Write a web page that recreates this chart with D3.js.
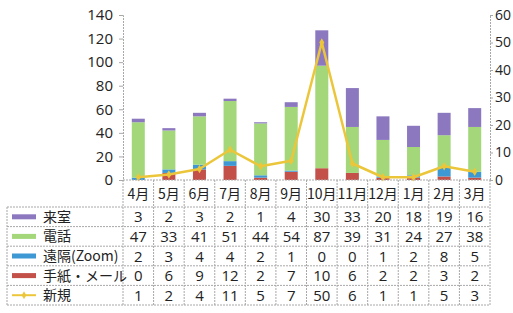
<!DOCTYPE html>
<html>
<head>
<meta charset="utf-8">
<script src="https://cdn.jsdelivr.net/npm/d3@7"></script>
<style>
body { margin:0; background:#fff; }
svg { font-family: "Noto Sans CJK JP", "Noto Sans", sans-serif; }
</style>
</head>
<body>
<svg id="chart" width="513" height="313"></svg>
<script>
// months and series
const months = ["4月","5月","6月","7月","8月","9月","10月","11月","12月","1月","2月","3月"];
const raishitsu = [3,2,3,2,1,4,30,33,20,18,19,16];
const denwa = [47,33,41,51,44,54,87,39,31,24,27,38];
const enkaku = [2,3,4,4,2,1,0,0,1,2,8,5];
const tegami = [0,6,9,12,2,7,10,6,2,2,3,2];
const shinki = [1,2,4,11,5,7,50,6,1,1,5,3];
const leftTicks = [0,20,40,60,80,100,120,140];
const rightTicks = [0,10,20,30,40,50,60];

// bottom to top in the stack
const stackSeries = [
    {name:"手紙・メール", values:tegami, color:"#c4504a"},
    {name:"遠隔(Zoom)", values:enkaku, color:"#3d98d3"},
    {name:"電話", values:denwa, color:"#a3d77a"},
    {name:"来室", values:raishitsu, color:"#8c78bf"}
];
const lineColor = "#ecc63a";

// table rows, top to bottom
const tableRows = [
    {name:"来室", values:raishitsu, color:"#8c78bf", type:"bar"},
    {name:"電話", values:denwa, color:"#a3d77a", type:"bar"},
    {name:"遠隔(Zoom)", values:enkaku, color:"#3d98d3", type:"bar"},
    {name:"手紙・メール", values:tegami, color:"#c4504a", type:"bar"},
    {name:"新規", values:shinki, color:lineColor, type:"line"}
];

const svg = d3.select('#chart');
const plot = {left:123, right:490, top:15, bottom:180};
const gridColor = "#a8a8a8";

const xScale = d3.scaleBand()
    .domain(months)
    .range([plot.left, plot.right]);

const yLeft = d3.scaleLinear().domain([0,140]).range([plot.bottom, plot.top]);
const yRight = d3.scaleLinear().domain([0,60]).range([plot.bottom, plot.top]);

// axes
const leftAxis = svg.append('g')
    .attr('transform', `translate(${plot.left},0)`)
    .call(d3.axisLeft(yLeft).tickValues(leftTicks).tickSize(4).tickPadding(6));
const rightAxis = svg.append('g')
    .attr('transform', `translate(${plot.right},0)`)
    .call(d3.axisRight(yRight).tickValues(rightTicks).tickSize(3).tickPadding(2));
for (const ax of [leftAxis, rightAxis]) {
    ax.select('.domain').attr('stroke', gridColor).attr('stroke-dasharray', '2,1');
    ax.selectAll('.tick line').attr('stroke', gridColor);
    ax.selectAll('.tick text')
        .attr('font-size', 15)
        .attr('fill', '#222')
        .attr('font-family', '"Open Sans", "Noto Sans", sans-serif');
}
rightAxis.selectAll('.tick text').attr('font-size', 14);

// stacked bars
const stackData = months.map((m, i) => {
    const row = {month:m};
    stackSeries.forEach(s => row[s.name] = s.values[i]);
    return row;
});
const stacked = d3.stack().keys(stackSeries.map(s => s.name))(stackData);
const barW = 13;

svg.append('g').selectAll('g')
    .data(stacked)
    .enter()
    .append('g')
    .attr('fill', (d, i) => stackSeries[i].color)
    .selectAll('rect')
    .data(d => d)
    .enter()
    .append('rect')
    .attr('x', d => xScale(d.data.month) + xScale.bandwidth()/2 - barW/2)
    .attr('y', d => yLeft(d[1]))
    .attr('width', barW)
    .attr('height', d => yLeft(d[0]) - yLeft(d[1]));

// line on the right axis
const lineData = months.map((m, i) => ({month:m, value:shinki[i]}));
svg.append('path')
    .datum(lineData)
    .attr('fill', 'none')
    .attr('stroke', lineColor)
    .attr('stroke-width', 2.5)
    .attr('stroke-linejoin', 'round')
    .attr('d', d3.line()
        .x(d => xScale(d.month) + xScale.bandwidth()/2)
        .y(d => yRight(d.value))
    );

svg.append('g').selectAll('path')
    .data(lineData)
    .enter()
    .append('path')
    .attr('transform', d => `translate(${xScale(d.month) + xScale.bandwidth()/2},${yRight(d.value)})`)
    .attr('d', d3.symbol().type(d3.symbolDiamond).size(22))
    .attr('fill', lineColor);

// data table
const headerBottom = 207;
const rowH = 19.6;
const tableLeft = 7;
const tableBottom = headerBottom + rowH * tableRows.length;
const table = svg.append('g');

// horizontal rules
table.append('line')
    .attr('x1', plot.left).attr('x2', plot.right)
    .attr('y1', plot.bottom).attr('y2', plot.bottom)
    .attr('stroke', gridColor).attr('stroke-dasharray', '2,1');
for (let r = 0; r <= tableRows.length; r++) {
    table.append('line')
        .attr('x1', tableLeft).attr('x2', plot.right)
        .attr('y1', headerBottom + r*rowH).attr('y2', headerBottom + r*rowH)
        .attr('stroke', gridColor).attr('stroke-dasharray', '2,1');
}
// vertical rules
table.append('line')
    .attr('x1', tableLeft).attr('x2', tableLeft)
    .attr('y1', headerBottom).attr('y2', tableBottom)
    .attr('stroke', gridColor).attr('stroke-dasharray', '2,1');
for (let i = 0; i <= months.length; i++) {
    const x = i < months.length ? xScale(months[i]) : plot.right;
    table.append('line')
        .attr('x1', x).attr('x2', x)
        .attr('y1', plot.bottom).attr('y2', tableBottom)
        .attr('stroke', gridColor).attr('stroke-dasharray', '2,1');
}

// month header
table.selectAll('.month')
    .data(months)
    .enter()
    .append('text')
    .attr('x', d => xScale(d) + xScale.bandwidth()/2)
    .attr('y', (plot.bottom + headerBottom)/2 + 5)
    .attr('text-anchor', 'middle')
    .attr('font-size', 14)
    .attr('fill', '#222')
    .text(d => d);

// rows
tableRows.forEach((row, r) => {
    const cy = headerBottom + r*rowH + rowH/2;
    if (row.type === 'bar') {
        table.append('rect')
            .attr('x', 12).attr('y', cy - 2.5)
            .attr('width', 24).attr('height', 5)
            .attr('fill', row.color);
    } else {
        table.append('line')
            .attr('x1', 12).attr('x2', 36)
            .attr('y1', cy).attr('y2', cy)
            .attr('stroke', row.color).attr('stroke-width', 2);
        table.append('path')
            .attr('transform', `translate(24,${cy})`)
            .attr('d', d3.symbol().type(d3.symbolDiamond).size(18))
            .attr('fill', row.color);
    }
    table.append('text')
        .attr('x', 43).attr('y', cy + 5)
        .attr('font-size', 14)
        .attr('fill', '#222')
        .text(row.name);
    table.selectAll(null)
        .data(row.values)
        .enter()
        .append('text')
        .attr('x', (d, i) => xScale(months[i]) + xScale.bandwidth()/2)
        .attr('y', cy + 5.5)
        .attr('text-anchor', 'middle')
        .attr('font-size', 15)
        .attr('fill', '#222')
        .attr('font-family', '"Open Sans", "Noto Sans", sans-serif')
        .text(d => d);
});
</script>
</body>
</html>
